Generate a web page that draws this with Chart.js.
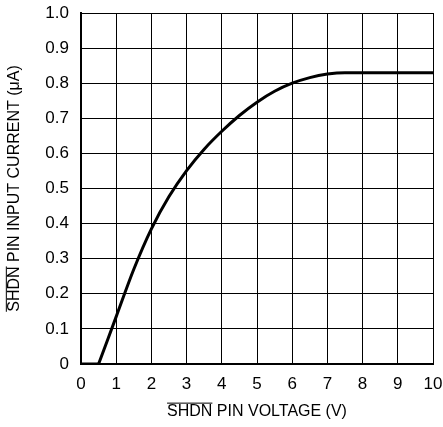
<!DOCTYPE html>
<html>
<head>
<meta charset="utf-8">
<script src="https://cdn.jsdelivr.net/npm/chart.js"></script>
<style>
  html, body { margin: 0; padding: 0; background: #fff; }
  #wrap { width: 443px; height: 427px; }
</style>
</head>
<body>
<div id="wrap"><canvas id="myChart" width="443" height="427"></canvas></div>
<script>
// shutdown region (flat at zero)
const offVoltage = [0, 0.5];
const offCurrent = [0, 0];
// rising part of the curve
const pinVoltage = [0.5, 1, 1.5, 2, 2.5, 3, 3.5, 4, 4.5, 5, 5.5, 6, 6.5, 7, 7.5, 8, 9, 10];
const pinCurrent = [0, 0.135, 0.27, 0.385, 0.477, 0.551, 0.612, 0.663, 0.708, 0.746, 0.777, 0.80, 0.816, 0.826, 0.83, 0.83, 0.83, 0.83];
const xTicks = [0, 1, 2, 3, 4, 5, 6, 7, 8, 9, 10];
const yTicks = [0, 0.1, 0.2, 0.3, 0.4, 0.5, 0.6, 0.7, 0.8, 0.9, 1.0];

const FONT = "'Liberation Sans', Arial, sans-serif";
const TICK_SIZE = 17;
const TITLE_SIZE = 16;

const toXY = (xs, ys) => xs.map((x, i) => ({ x: x, y: ys[i] }));

// drop the automatic label overhang, layout.padding sets the plot box
const noOverhang = s => {
  s.paddingTop = 0; s.paddingBottom = 0; s.paddingLeft = 0; s.paddingRight = 0;
};

// draws the bar over "SHDN" in both axis titles
const overline = {
  id: 'overline',
  afterDraw(chart) {
    const ctx = chart.ctx;
    ctx.save();
    ctx.font = TITLE_SIZE + 'px ' + FONT;
    ctx.strokeStyle = '#000';
    ctx.lineWidth = 1;
    const cap = TITLE_SIZE * 0.72;
    const sw = ctx.measureText('SHDN').width;

    const xs = chart.scales.x;
    const xw = ctx.measureText(xs.options.title.text).width;
    const cx = (xs.left + xs.right) / 2;
    const ty = xs.bottom - 6 - TITLE_SIZE * 0.6;
    ctx.beginPath();
    ctx.moveTo(cx - xw / 2, ty - cap / 2 - 2.5);
    ctx.lineTo(cx - xw / 2 + sw, ty - cap / 2 - 2.5);
    ctx.stroke();

    const ys = chart.scales.y;
    const yw = ctx.measureText(ys.options.title.text).width;
    const cy = (ys.top + ys.bottom) / 2;
    const tx = ys.left + 5 + TITLE_SIZE * 0.6;
    ctx.beginPath();
    ctx.moveTo(tx - cap / 2 - 2.5, cy + yw / 2);
    ctx.lineTo(tx - cap / 2 - 2.5, cy + yw / 2 - sw);
    ctx.stroke();
    ctx.restore();
  }
};

const ctx = document.getElementById('myChart').getContext('2d');
new Chart(ctx, {
  type: 'line',
  data: {
    datasets: [{
      data: toXY(offVoltage, offCurrent),
      borderColor: '#000',
      borderWidth: 3,
      pointRadius: 0,
      tension: 0
    }, {
      data: toXY(pinVoltage, pinCurrent),
      borderColor: '#000',
      borderWidth: 3,
      pointRadius: 0,
      cubicInterpolationMode: 'monotone'
    }]
  },
  options: {
    responsive: false,
    animation: false,
    layout: { padding: { top: 13, right: 10, left: 0, bottom: 0 } },
    plugins: { legend: { display: false }, tooltip: { enabled: false } },
    scales: {
      x: {
        type: 'linear',
        min: 0, max: 10,
        afterBuildTicks: s => { s.ticks = xTicks.map(v => ({ value: v })); },
        afterFit: s => { s.height = 63; noOverhang(s); },
        ticks: {
          color: '#000',
          font: { family: FONT, size: TICK_SIZE },
          padding: 10,
          maxRotation: 0,
          callback: v => String(v)
        },
        grid: { color: '#000', lineWidth: 1, drawTicks: false },
        border: { color: '#000', width: 2 },
        title: {
          display: true,
          text: 'SHDN PIN VOLTAGE (V)',
          color: '#000',
          font: { family: FONT, size: TITLE_SIZE },
          padding: { top: 4, bottom: 6 }
        }
      },
      y: {
        type: 'linear',
        min: 0, max: 1,
        afterBuildTicks: s => { s.ticks = yTicks.map(v => ({ value: v })); },
        afterFit: s => { s.width = 81; noOverhang(s); },
        ticks: {
          color: '#000',
          font: { family: FONT, size: TICK_SIZE },
          padding: 12,
          callback: v => (v === 0 ? '0' : v.toFixed(1))
        },
        grid: { color: '#000', lineWidth: 1, drawTicks: false },
        border: { color: '#000', width: 2 },
        title: {
          display: true,
          text: 'SHDN PIN INPUT CURRENT (\u03bcA)',
          color: '#000',
          font: { family: FONT, size: TITLE_SIZE },
          padding: { top: 5, bottom: 4 }
        }
      }
    }
  },
  plugins: [overline]
});
</script>
</body>
</html>
